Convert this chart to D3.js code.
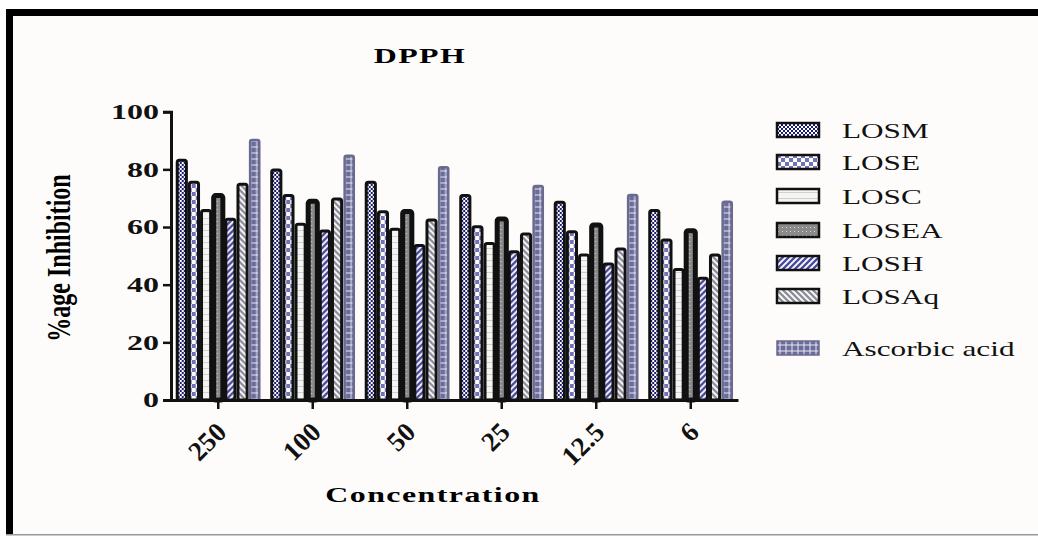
<!DOCTYPE html>
<html>
<head>
<meta charset="utf-8">
<script src="https://cdn.jsdelivr.net/npm/d3@7"></script>
<style>
  body { margin: 0; background: #fff; }
  svg text { font-family: "Liberation Serif", "Times New Roman", serif; }
</style>
</head>
<body>
<div id="chart"></div>
<script>
const concentrations = ["250", "100", "50", "25", "12.5", "6"];
const seriesNames = ["LOSM", "LOSE", "LOSC", "LOSEA", "LOSH", "LOSAq", "Ascorbic acid"];
const LOSM = [83.2, 79.8, 75.5, 70.9, 68.6, 65.7];
const LOSE = [75.5, 70.9, 65.3, 60.1, 58.4, 55.5];
const LOSC = [65.7, 61.0, 59.2, 54.3, 50.3, 45.3];
const LOSEA = [70.9, 68.9, 65.4, 62.8, 60.7, 58.7];
const LOSH = [62.7, 58.6, 53.6, 51.4, 47.2, 42.2];
const LOSAq = [74.8, 69.7, 62.4, 57.6, 52.4, 50.3];
const ascorbicAcid = [90.2, 84.7, 80.7, 74.2, 71.1, 68.8];
const yTicks = [0, 20, 40, 60, 80, 100];

const seriesValues = [LOSM, LOSE, LOSC, LOSEA, LOSH, LOSAq, ascorbicAcid];

const width = 1038, height = 537;

const svg = d3.select("#chart")
    .append("svg")
    .attr("width", width)
    .attr("height", height);

// patterns for each series
const defs = svg.append("defs");

function pat(id, w, h, bg, draw) {
    const p = defs.append("pattern")
        .attr("id", id)
        .attr("patternUnits", "userSpaceOnUse")
        .attr("width", w).attr("height", h);
    p.append("rect").attr("width", w).attr("height", h).attr("fill", bg);
    draw(p);
}

pat("p-losm", 4, 4, "#1c1c70", p => {
    p.append("rect").attr("x", 0).attr("y", 0).attr("width", 2).attr("height", 2).attr("fill", "#fff");
    p.append("rect").attr("x", 2).attr("y", 2).attr("width", 2).attr("height", 2).attr("fill", "#fff");
});
pat("p-lose", 8, 8, "#fff", p => {
    p.append("rect").attr("x", 0).attr("y", 0).attr("width", 4).attr("height", 4).attr("fill", "#7272b8");
    p.append("rect").attr("x", 4).attr("y", 4).attr("width", 4).attr("height", 4).attr("fill", "#7272b8");
});
pat("p-losc", 6, 6, "#f4f4f2", p => {
    p.append("rect").attr("x", 0).attr("y", 2).attr("width", 6).attr("height", 1).attr("fill", "#d0d0d0");
});
pat("p-losea", 4, 4, "#8a8a8a", p => {
    p.append("rect").attr("x", 1).attr("y", 1).attr("width", 1).attr("height", 1).attr("fill", "#d6d6d6");
});
pat("p-losh", 6, 6, "#fff", p => {
    p.append("path").attr("d", "M-1,7 L7,-1 M-1,1 L1,-1 M5,7 L7,5")
        .attr("stroke", "#4a4a9c").attr("stroke-width", 2.4);
});
pat("p-losaq", 6, 6, "#fff", p => {
    p.append("path").attr("d", "M-1,-1 L7,7 M5,-1 L7,1 M-1,5 L1,7")
        .attr("stroke", "#8e8e9a").attr("stroke-width", 2.4);
});
pat("p-asc", 6, 6, "#6c6c9c", p => {
    p.append("path").attr("d", "M0,3 L6,3 M3,0 L3,6")
        .attr("stroke", "#e8e8f2").attr("stroke-width", 1);
});

const fills = ["url(#p-losm)", "url(#p-lose)", "url(#p-losc)", "url(#p-losea)", "url(#p-losh)", "url(#p-losaq)", "url(#p-asc)"];
const strokes = ["#111", "#111", "#111", "#111", "#111", "#111", "#6a6a8e"];
const barStroke = [3, 3, 3, 5, 3, 3, 2.5];

// background and frame
svg.append("rect").attr("x", 6).attr("y", 9).attr("width", width).attr("height", 526)
    .attr("fill", "#fdfcfa");
svg.append("rect").attr("x", 6).attr("y", 9).attr("width", width).attr("height", 7).attr("fill", "#000");
svg.append("rect").attr("x", 6).attr("y", 9).attr("width", 7).attr("height", 526).attr("fill", "#000");
svg.append("rect").attr("x", 6).attr("y", 534).attr("width", width).attr("height", 1.5).attr("fill", "#999");

// scales
const x0 = d3.scaleBand()
    .domain(concentrations)
    .range([171, 738])
    .paddingInner(0.1)
    .paddingOuter(0.05);

const x1 = d3.scaleBand()
    .domain(seriesNames)
    .range([0, x0.bandwidth()]);

const y = d3.scaleLinear()
    .domain([0, 100])
    .range([400, 111.7]);

// bars
const groups = svg.append("g").selectAll("g")
    .data(concentrations)
    .enter()
    .append("g")
    .attr("transform", d => `translate(${x0(d)},0)`);

groups.selectAll("rect")
    .data((c, i) => seriesNames.map((s, j) => ({ s, j, v: seriesValues[j][i] })))
    .enter()
    .append("rect")
    .attr("x", d => x1(d.s) + 1.5)
    .attr("y", d => y(d.v))
    .attr("width", x1.bandwidth() - 3)
    .attr("height", d => y(0) - y(d.v))
    .attr("rx", 2)
    .attr("fill", d => fills[d.j])
    .attr("stroke", d => strokes[d.j])
    .attr("stroke-width", d => barStroke[d.j]);

// y axis
const yAxis = svg.append("g")
    .attr("transform", "translate(171,0)")
    .call(d3.axisLeft(y).tickValues(yTicks).tickSize(8));
yAxis.select(".domain").attr("stroke", "#111").attr("stroke-width", 3);
yAxis.selectAll(".tick line").attr("stroke", "#111").attr("stroke-width", 2.5);
yAxis.selectAll("text")
    .attr("fill", "#111")
    .attr("x", 0)
    .attr("dy", "0.34em")
    .attr("transform", "translate(-12,0) scale(1.6,1)")
    .style("font-family", "Liberation Serif, serif")
    .style("font-weight", "bold")
    .style("font-size", "20px");

// x axis
const xAxis = svg.append("g")
    .attr("transform", "translate(0,400)")
    .call(d3.axisBottom(x0).tickSize(9).tickSizeOuter(0));
xAxis.select(".domain").attr("stroke", "#111").attr("stroke-width", 3);
xAxis.selectAll(".tick line").attr("stroke", "#111").attr("stroke-width", 2.5);
xAxis.selectAll("text")
    .attr("fill", "#111")
    .attr("x", 0).attr("y", 0)
    .attr("dy", "0.35em")
    .attr("text-anchor", "end")
    .attr("transform", "translate(3,27) rotate(-45)")
    .style("font-family", "Liberation Serif, serif")
    .style("font-weight", "bold")
    .style("font-size", "27px");

// titles (the source picture is stretched sideways, so text is too)
svg.append("text")
    .attr("transform", "translate(420,63) scale(1.45,1)")
    .attr("text-anchor", "middle")
    .style("font-weight", "bold")
    .style("font-size", "22px")
    .style("letter-spacing", "1px")
    .text("DPPH");

svg.append("text")
    .attr("transform", "translate(70,258) scale(1.4,1) rotate(-90)")
    .attr("text-anchor", "middle")
    .style("font-weight", "bold")
    .style("font-size", "24px")
    .text("%age Inhibition");

svg.append("text")
    .attr("transform", "translate(433,502) scale(1.45,1)")
    .attr("text-anchor", "middle")
    .style("font-weight", "bold")
    .style("font-size", "22px")
    .style("letter-spacing", "1px")
    .text("Concentration");

// legend
const legendY = [130, 162, 196, 230, 263, 296, 348];
const legend = svg.append("g").selectAll("g")
    .data(seriesNames)
    .enter()
    .append("g")
    .attr("transform", (d, i) => `translate(777,${legendY[i]})`);

legend.append("rect")
    .attr("x", 0).attr("y", -7)
    .attr("width", 42).attr("height", 14)
    .attr("fill", (d, i) => fills[i])
    .attr("stroke", (d, i) => strokes[i])
    .attr("stroke-width", (d, i) => i === 6 ? 1.5 : 2.5);

legend.append("text")
    .attr("transform", "translate(65,0) scale(1.42,1)")
    .attr("dy", "0.35em")
    .style("font-size", "22px")
    .attr("fill", "#111")
    .text(d => d);
</script>
</body>
</html>
